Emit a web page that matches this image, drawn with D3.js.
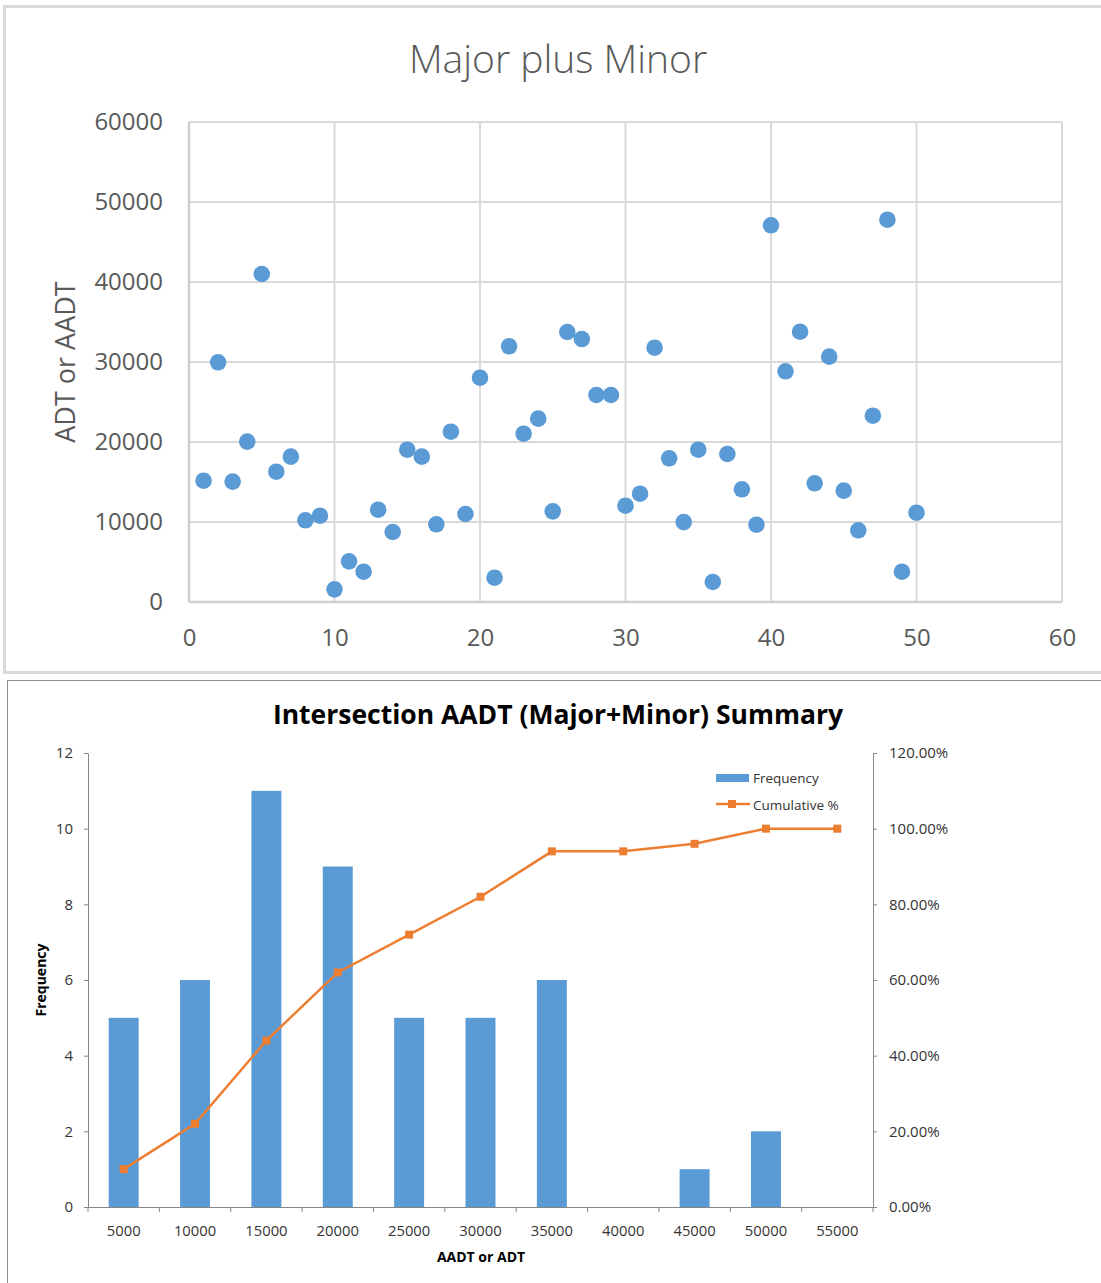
<!DOCTYPE html>
<html>
<head>
<meta charset="utf-8">
<script src="https://cdn.jsdelivr.net/npm/d3@7"></script>
<style>
  html, body { margin: 0; padding: 0; background: #fff; }
  svg { display: block; }
</style>
</head>
<body>
<svg id="chart" width="1101" height="1283"></svg>
<script>
// ---- Scatter: combined major + minor volume per intersection ----
const siteIds = d3.range(1, 51);
const siteVolumes = [
  15160, 29960, 15050, 20050, 41000, 16290, 18170, 10210, 10790, 1580,
  5080, 3790, 11540, 8750, 19040, 18170, 9710, 21290, 11000, 28040,
  3040, 31960, 21040, 22920, 11330, 33750, 32870, 25875, 25875, 12040,
  13540, 31790, 17960, 9980, 19040, 2500, 18500, 14085, 9665, 47085,
  28835, 33790, 14835, 30670, 13920, 8960, 23290, 47790, 3790, 11165
];
const scatterXTicks = [0, 10, 20, 30, 40, 50, 60];
const scatterYTicks = [0, 10000, 20000, 30000, 40000, 50000, 60000];

// ---- Histogram summary ----
const binLabels = ["5000", "10000", "15000", "20000", "25000", "30000",
                   "35000", "40000", "45000", "50000", "55000"];
const binFrequency = [5, 6, 11, 9, 5, 5, 6, 0, 1, 2, 0];
const binCumulative = [0.10, 0.22, 0.44, 0.62, 0.72, 0.82, 0.94, 0.94, 0.96, 1.00, 1.00];
const freqTicks = [0, 2, 4, 6, 8, 10, 12];
const pctTicks = [0, 0.2, 0.4, 0.6, 0.8, 1.0, 1.2];

const svg = d3.select("#chart");
const BLUE = "#5b9bd5", ORANGE = "#ed7d31";
const FONT = "'Open Sans', 'Liberation Sans', sans-serif";

// ================= Top panel =================
svg.append("rect")
  .attr("x", 4.5).attr("y", 6.5).attr("width", 1100).attr("height", 666)
  .attr("fill", "#fff").attr("stroke", "#d9d9d9").attr("stroke-width", 3);

const sx = d3.scaleLinear().domain([0, 60]).range([189, 1062]);
const sy = d3.scaleLinear().domain([0, 60000]).range([602, 122]);

const topG = svg.append("g");

// gridlines
topG.append("g").selectAll("line").data(scatterYTicks).join("line")
  .attr("x1", sx(0)).attr("x2", sx(60))
  .attr("y1", d => sy(d)).attr("y2", d => sy(d))
  .attr("stroke", "#d9d9d9").attr("stroke-width", 2);
topG.append("g").selectAll("line").data(scatterXTicks).join("line")
  .attr("x1", d => sx(d)).attr("x2", d => sx(d))
  .attr("y1", sy(0)).attr("y2", sy(60000))
  .attr("stroke", "#d9d9d9").attr("stroke-width", 2);
// axis lines
topG.append("line").attr("x1", sx(0)).attr("x2", sx(60)).attr("y1", sy(0)).attr("y2", sy(0))
  .attr("stroke", "#cfcfcf").attr("stroke-width", 2.5);
topG.append("line").attr("x1", sx(0)).attr("x2", sx(0)).attr("y1", sy(0)).attr("y2", sy(60000))
  .attr("stroke", "#cfcfcf").attr("stroke-width", 2.5);

// tick labels
const yAxisTop = d3.axisLeft(sy).tickValues(scatterYTicks).tickSize(0).tickPadding(26)
  .tickFormat(d3.format("d"));
const gyt = topG.append("g").attr("transform", `translate(${sx(0)},0)`).call(yAxisTop);
gyt.select(".domain").remove();
gyt.selectAll("text").attr("font-family", FONT).attr("font-size", 24)
  .attr("fill", "#595959").attr("dy", "0.33em");

const xAxisTop = d3.axisBottom(sx).tickValues(scatterXTicks).tickSize(0).tickPadding(27)
  .tickFormat(d3.format("d"));
const gxt = topG.append("g").attr("transform", `translate(0,${sy(0)})`).call(xAxisTop);
gxt.select(".domain").remove();
gxt.selectAll("text").attr("font-family", FONT).attr("font-size", 24)
  .attr("fill", "#595959").attr("dy", "0.71em");

// points
topG.append("g").selectAll("circle").data(siteIds).join("circle")
  .attr("cx", (d) => sx(d))
  .attr("cy", (d, i) => sy(siteVolumes[i]))
  .attr("r", 8.3)
  .attr("fill", BLUE);

// titles
topG.append("text").attr("x", 558).attr("y", 73).attr("text-anchor", "middle")
  .attr("font-family", FONT).attr("font-weight", 300).attr("font-size", 39)
  .attr("fill", "#595959").text("Major plus Minor");
topG.append("text").attr("transform", "translate(75,362) rotate(-90)")
  .attr("text-anchor", "middle").attr("font-family", FONT).attr("font-size", 27)
  .attr("fill", "#595959").text("ADT or AADT");

// ================= Bottom panel =================
svg.append("rect")
  .attr("x", 7.5).attr("y", 680.5).attr("width", 1100).attr("height", 610)
  .attr("fill", "#fff").attr("stroke", "#8c8c8c").attr("stroke-width", 1);

const bx = d3.scaleBand().domain(binLabels).range([88, 873])
  .paddingInner(0.58).paddingOuter(0.29);
const byL = d3.scaleLinear().domain([0, 12]).range([1207, 753]);
const byR = d3.scaleLinear().domain([0, 1.2]).range([1207, 753]);
const AXIS = "#868686", LABEL = "#333";

const botG = svg.append("g");

// bars
botG.append("g").selectAll("rect").data(binLabels).join("rect")
  .attr("x", d => bx(d)).attr("width", bx.bandwidth())
  .attr("y", (d, i) => byL(binFrequency[i]))
  .attr("height", (d, i) => byL(0) - byL(binFrequency[i]))
  .attr("fill", BLUE);

// left axis
const gl = botG.append("g").attr("transform", "translate(88,0)")
  .call(d3.axisLeft(byL).tickValues(freqTicks).tickSize(4).tickPadding(11).tickSizeOuter(0));
// right axis
const gr = botG.append("g").attr("transform", "translate(873,0)")
  .call(d3.axisRight(byR).tickValues(pctTicks).tickSize(4).tickPadding(12).tickSizeOuter(0)
    .tickFormat(d => (d * 100).toFixed(2) + "%"));
[gl, gr].forEach(g => {
  g.select(".domain").attr("stroke", AXIS);
  g.selectAll(".tick line").attr("stroke", AXIS);
  g.selectAll("text").attr("font-family", FONT).attr("font-size", 15).attr("fill", LABEL);
});

// bottom axis: ticks between categories
const step = bx.step();
const boundaries = d3.range(binLabels.length + 1).map(i => 88 + i * step);
botG.append("line").attr("x1", 88).attr("x2", 873).attr("y1", 1207.5).attr("y2", 1207.5)
  .attr("stroke", AXIS);
botG.append("g").selectAll("line").data(boundaries).join("line")
  .attr("x1", d => d).attr("x2", d => d).attr("y1", 1207).attr("y2", 1212)
  .attr("stroke", AXIS);
botG.append("g").selectAll("text").data(binLabels).join("text")
  .attr("x", d => bx(d) + bx.bandwidth() / 2).attr("y", 1236)
  .attr("text-anchor", "middle").attr("font-family", FONT).attr("font-size", 14.8)
  .attr("fill", LABEL).text(d => d);

// cumulative line
const line = d3.line()
  .x((d, i) => bx(binLabels[i]) + bx.bandwidth() / 2)
  .y(d => byR(d));
botG.append("path").datum(binCumulative).attr("d", line)
  .attr("fill", "none").attr("stroke", ORANGE).attr("stroke-width", 2.5);
botG.append("g").selectAll("rect").data(binCumulative).join("rect")
  .attr("x", (d, i) => bx(binLabels[i]) + bx.bandwidth() / 2 - 4)
  .attr("y", d => byR(d) - 4)
  .attr("width", 8).attr("height", 8).attr("fill", ORANGE);

// titles
botG.append("text").attr("x", 558).attr("y", 724).attr("text-anchor", "middle")
  .attr("font-family", FONT).attr("font-weight", 700).attr("font-size", 26.5)
  .attr("fill", "#000").text("Intersection AADT (Major+Minor) Summary");
botG.append("text").attr("x", 481).attr("y", 1262).attr("text-anchor", "middle")
  .attr("font-family", FONT).attr("font-weight", 700).attr("font-size", 14)
  .attr("fill", "#000").text("AADT or ADT");
botG.append("text").attr("transform", "translate(46,980) rotate(-90)")
  .attr("text-anchor", "middle").attr("font-family", FONT).attr("font-weight", 700)
  .attr("font-size", 14).attr("fill", "#000").text("Frequency");

// legend
const lg = botG.append("g");
lg.append("rect").attr("x", 716).attr("y", 774).attr("width", 33).attr("height", 8).attr("fill", BLUE);
lg.append("text").attr("x", 753).attr("y", 783).attr("font-family", FONT).attr("font-size", 13.5)
  .attr("fill", LABEL).text("Frequency");
lg.append("line").attr("x1", 716).attr("x2", 750).attr("y1", 804).attr("y2", 804)
  .attr("stroke", ORANGE).attr("stroke-width", 2.5);
lg.append("rect").attr("x", 728).attr("y", 800).attr("width", 8).attr("height", 8).attr("fill", ORANGE);
lg.append("text").attr("x", 753).attr("y", 810).attr("font-family", FONT).attr("font-size", 13.5)
  .attr("fill", LABEL).text("Cumulative %");
</script>
</body>
</html>
